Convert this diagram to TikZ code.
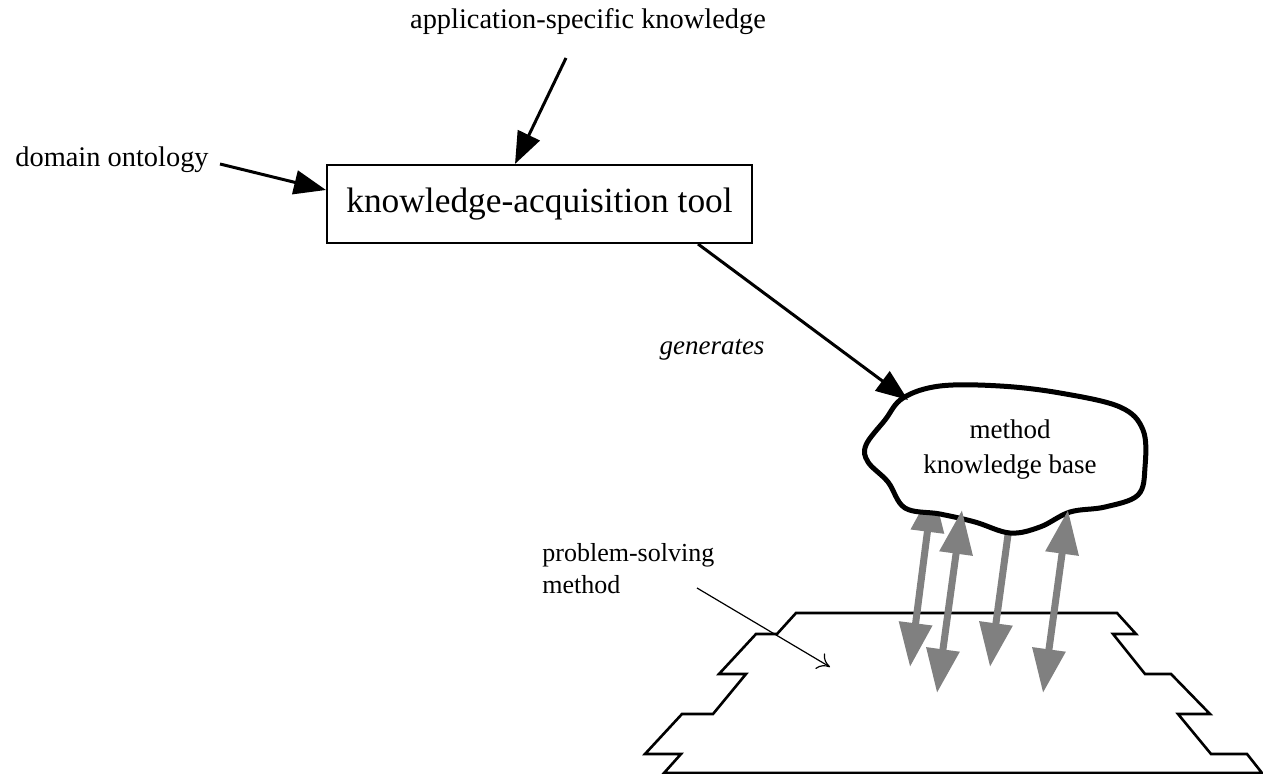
\documentclass[tikz,border=0pt]{standalone}
\usepackage{fontspec}
\setmainfont{Liberation Serif}
\usetikzlibrary{positioning, arrows.meta}
\tikzstyle{arrow} = [line width=1.5pt,-{Triangle[length=16pt,width=12pt]}]
\tikzstyle{grayarrow} = [line width=3.5pt,draw=gray,-{Triangle[length=22pt,width=16pt]}]
\tikzstyle{twoway} = [line width=3.5pt,draw=gray,{Triangle[length=22pt,width=16pt]}-{Triangle[length=22pt,width=16pt]}]
\tikzstyle{txt} = [inner sep=0pt,font=\fontsize{14.2}{17}\selectfont]

\begin{document}
\begin{tikzpicture}[x=0.5pt,y=-0.5pt]
        \useasboundingbox (0,0) rectangle (1263,774);
        % tool and its inputs
        \node[draw, line width=1pt, minimum width=212.5pt, minimum height=39pt, inner sep=0pt, font=\fontsize{17.7}{21}\selectfont] (tool) at (539.5,204) {knowledge-acquisition tool};
        \node[txt] (app) at (588,22) {application-specific knowledge};
        \node[txt] (onto) at (112,160) {domain ontology};
        \coordinate (append) at (566,58);
        \coordinate (ontoend) at (220,164);
        \draw[arrow] (append) -- (tool.north -| 515,0);
        \draw[arrow] (ontoend) -- (tool.west |- 0,190);
        % platform
        \draw[line width=1.3pt] (796,613) -- (777,634) -- (756,634) -- (719,674) -- (746,674) -- (713,714) -- (682,714) -- (645,754) -- (681,754) -- (664,773) -- (1262,773) -- (1247,754) -- (1211,754) -- (1178,714) -- (1210,714) -- (1171,674) -- (1145,674) -- (1113,634) -- (1136,634) -- (1117,613) -- cycle;
        \node[txt, anchor=north west, align=left, font=\fontsize{13}{16}\selectfont] (psm) at (542,543) {problem-solving\\method};
        \coordinate (psmstart) at (697,588);
        \coordinate (psmend) at (830,667);
        \draw[line width=0.6pt, -{To[length=6pt,width=9pt]}] (psmstart) -- (psmend);
        % arrows between knowledge base and method
        \coordinate (a1) at (933,488);
        \coordinate (b1) at (910,667);
        \coordinate (a3) at (1010,520);
        \coordinate (b3) at (990,667);
        \draw[twoway] (a1) -- (b1);
        \draw[grayarrow] (a3) -- (b3);
        % knowledge base
        \draw[line width=2.5pt, fill=white] plot[smooth cycle, tension=0.6] coordinates {(903,398) (940,386) (1000,386) (1060,393) (1120,407) (1143,430) (1145,467) (1138,495) (1105,507) (1070,512) (1040,527) (1010,533) (975,522) (940,514) (905,508) (888,482) (868,462) (866,445) (885,420)};
        \node[txt, align=center, font=\fontsize{13.5}{17.5}\selectfont] (kb) at (1010,450) {method\\knowledge base};
        \coordinate (kbtip) at (908,400);
        \coordinate (genstart) at (698,244);
        \draw[arrow] (genstart) -- (kbtip);
        \node[txt, font=\fontsize{13.5}{16}\itshape] (gen) at (712,350) {generates};
        \coordinate (a2) at (962,510);
        \coordinate (b2) at (937,693);
        \coordinate (a4) at (1068,510);
        \coordinate (b4) at (1043,693);
        \draw[twoway] (a2) -- (b2);
        \draw[twoway] (a4) -- (b4);
\end{tikzpicture}
\end{document}
